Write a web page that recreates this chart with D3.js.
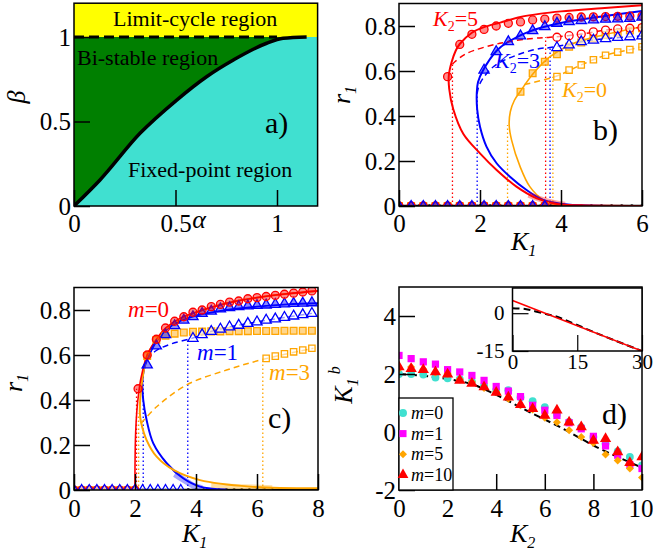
<!DOCTYPE html>
<html>
<head>
<meta charset="utf-8">
<script src="https://cdn.jsdelivr.net/npm/d3@7"></script>
<style>
body { margin: 0; background: #fff; }
</style>
</head>
<body>
<div id="chart"></div>
<script>
// ---- panel a) phase diagram
var bndAlpha = [0, 0.128, 0.325, 0.506, 0.653, 0.785, 0.949, 1.03, 1.146];
var bndBeta  = [0, 0.154, 0.43, 0.627, 0.765, 0.864, 0.963, 0.992, 1.0];

// ---- panel b) r1 vs K1 for K2 = 5, 3, 0
var b5SolidK = [6, 4.5, 3.9, 3.4, 2.9, 2.41, 2.0, 1.59, 1.34, 1.24, 1.23, 1.3, 1.4, 1.5, 1.8, 2.1, 2.5, 3.0, 3.5, 4.0, 5.0, 6.0];
var b5SolidR = [0, 0.003, 0.009, 0.034, 0.086, 0.16, 0.234, 0.32, 0.43, 0.52, 0.58, 0.64, 0.69, 0.72, 0.77, 0.795, 0.815, 0.84, 0.855, 0.865, 0.879, 0.892];
var b5DashK = [1.32, 1.38, 1.67, 2.49, 3.32, 3.73, 4.5, 5.1, 6.0];
var b5DashR = [0.63, 0.641, 0.678, 0.723, 0.745, 0.75, 0.764, 0.782, 0.793];
var b5FillK = [1.2, 1.5, 1.8, 2.1, 2.4, 2.7, 3.0, 3.3, 3.6, 3.9, 4.2, 4.5, 4.8, 5.1, 5.4, 5.7, 6.0];
var b5FillR = [0.575, 0.718, 0.763, 0.785, 0.80, 0.812, 0.818, 0.827, 0.831, 0.835, 0.838, 0.84, 0.841, 0.842, 0.843, 0.844, 0.844];
var b5OpenK = [3.9, 4.2, 4.5, 4.8, 5.1, 5.4, 5.7, 6.0];
var b5OpenR = [0.75, 0.757, 0.764, 0.774, 0.782, 0.787, 0.79, 0.793];

var b3SolidK = [6, 4.6, 4.06, 3.56, 3.15, 2.74, 2.41, 2.16, 2.0, 1.93, 1.92, 1.95, 2.08, 2.41, 2.7, 3.32, 4.14, 4.96, 6.0];
var b3SolidR = [0, 0.002, 0.009, 0.027, 0.071, 0.13, 0.19, 0.264, 0.352, 0.43, 0.5, 0.55, 0.604, 0.69, 0.73, 0.782, 0.819, 0.841, 0.867];
var b3DashK = [1.93, 2.0, 2.33, 2.91, 3.48, 3.73, 4.5, 5.1, 6.0];
var b3DashR = [0.5, 0.545, 0.619, 0.671, 0.7, 0.704, 0.73, 0.744, 0.756];
var b3FillK = [2.1, 2.4, 2.7, 3.0, 3.3, 3.6, 3.9, 4.2, 4.5, 4.8, 5.1, 5.4, 5.7, 6.0];
var b3FillR = [0.604, 0.686, 0.73, 0.756, 0.779, 0.797, 0.812, 0.819, 0.824, 0.827, 0.83, 0.831, 0.834, 0.839];
var b3OpenK = [3.9, 4.2, 4.5, 4.8, 5.1, 5.4, 5.7, 6.0];
var b3OpenR = [0.704, 0.716, 0.73, 0.737, 0.744, 0.749, 0.752, 0.756];

var b0SolidK = [6, 4.5, 3.9, 3.56, 3.23, 2.99, 2.78, 2.72, 2.75, 2.85, 2.99, 3.32, 3.73, 4.22, 4.88, 6.0];
var b0SolidR = [0, 0.002, 0.006, 0.027, 0.086, 0.175, 0.293, 0.36, 0.42, 0.47, 0.508, 0.59, 0.664, 0.716, 0.753, 0.797];
var b0DashK = [3.1, 3.9, 4.5, 5.1, 5.7, 6.0];
var b0DashR = [0.54, 0.578, 0.627, 0.67, 0.695, 0.708];
var b0FillK = [3.0, 3.3, 3.6, 3.9, 4.2, 4.5, 4.8, 5.1, 5.4, 5.7, 6.0];
var b0FillR = [0.508, 0.59, 0.641, 0.674, 0.708, 0.727, 0.745, 0.76, 0.77, 0.78, 0.79];
var b0OpenK = [3.9, 4.2, 4.5, 4.8, 5.1, 5.4, 5.7, 6.0];
var b0OpenR = [0.575, 0.604, 0.627, 0.65, 0.67, 0.684, 0.695, 0.708];

// jumps (dotted verticals): K1, top r, colour
var bDropK = [1.32, 3.62, 1.93, 3.73, 2.68, 3.8];
var bDropR = [0.63, 0.75, 0.5, 0.704, 0.36, 0.575];
var bDropC = ["red", "red", "blue", "blue", "orange", "orange"];

var bZeroK = [0, 0.3, 0.6, 0.9, 1.2, 1.5, 1.8, 2.1, 2.4, 2.7, 3.0, 3.3, 3.6];
var bDotK = [0, 0.25, 0.5, 0.75, 1, 1.25, 1.5, 1.75, 2, 2.25, 2.5, 2.75, 3, 3.25, 3.5, 3.75, 4, 4.25, 4.5, 4.75, 5, 5.25, 5.5, 5.75, 6];
var bFuzzK = [3.2, 3.5, 3.8, 4.1];
var bFuzzR = [0.05, 0.03, 0.015, 0.006];

// ---- panel c) r1 vs K1 for m = 0, 1, 3
var c0SolidK = [2.0, 2.0, 2.02, 2.06, 2.12, 2.2, 2.4, 2.7, 3.0, 3.5, 4.0, 5.0, 6.0, 7.0, 8.0];
var c0SolidR = [0, 0.1, 0.25, 0.35, 0.43, 0.5, 0.6, 0.67, 0.72, 0.765, 0.79, 0.83, 0.855, 0.872, 0.885];
var c0FillK = [2.1, 2.4, 2.7, 3.0, 3.3, 3.6, 3.9, 4.2, 4.5, 4.8, 5.1, 5.4, 5.7, 6.0, 6.3, 6.6, 6.9, 7.2, 7.5, 7.8];
var c0FillR = [0.45, 0.6, 0.67, 0.72, 0.75, 0.77, 0.79, 0.80, 0.815, 0.825, 0.835, 0.84, 0.85, 0.855, 0.86, 0.865, 0.87, 0.875, 0.88, 0.885];

var c1SolidK = [5.0, 4.13, 3.58, 3.04, 2.6, 2.38, 2.27, 2.24, 2.3, 2.4, 2.7, 3.0, 3.3, 4.0, 5.0, 6.0, 7.0, 8.0];
var c1SolidR = [0.002, 0.015, 0.052, 0.119, 0.207, 0.311, 0.4, 0.48, 0.54, 0.58, 0.66, 0.71, 0.74, 0.775, 0.8, 0.815, 0.825, 0.83];
var c1DashK = [2.27, 2.38, 2.7, 3.2, 3.86, 4.5, 5.1, 6.0, 6.9, 7.8];
var c1DashR = [0.54, 0.578, 0.62, 0.65, 0.674, 0.705, 0.725, 0.747, 0.767, 0.785];
var c1FillK = [2.4, 2.7, 3.0, 3.3, 3.6, 3.9, 4.2, 4.5, 4.8, 5.1, 5.4, 5.7, 6.0, 6.3, 6.6, 6.9, 7.2, 7.5, 7.8];
var c1FillR = [0.556, 0.64, 0.69, 0.73, 0.755, 0.77, 0.785, 0.795, 0.805, 0.81, 0.815, 0.818, 0.82, 0.822, 0.825, 0.827, 0.829, 0.83, 0.832];
var c1OpenK = [3.9, 4.2, 4.5, 4.8, 5.1, 5.4, 5.7, 6.0, 6.3, 6.6, 6.9, 7.2, 7.5, 7.8];
var c1OpenR = [0.674, 0.69, 0.705, 0.715, 0.725, 0.732, 0.74, 0.747, 0.755, 0.76, 0.767, 0.773, 0.779, 0.785];

var c3SolidK = [8, 5.77, 4.13, 3.26, 2.71, 2.38, 2.2, 2.16, 2.2, 2.3, 2.4, 2.7, 3.0, 3.5, 4.0, 5.0, 6.0, 7.0, 8.0];
var c3SolidR = [0.008, 0.015, 0.044, 0.089, 0.148, 0.222, 0.3, 0.34, 0.45, 0.54, 0.6, 0.665, 0.715, 0.76, 0.79, 0.83, 0.855, 0.872, 0.885];
var c3DashK = [2.2, 2.71, 3.69, 5.0, 6.21, 7.85];
var c3DashR = [0.296, 0.37, 0.467, 0.533, 0.581, 0.63];
var c3FillK = [2.4, 2.7, 3.0, 3.3, 3.6, 3.9, 4.2, 4.5, 4.8, 5.1, 5.4, 5.7, 6.0, 6.3, 6.6, 6.9, 7.2, 7.5, 7.8];
var c3FillR = [0.596, 0.667, 0.686, 0.695, 0.70, 0.703, 0.704, 0.705, 0.705, 0.706, 0.706, 0.706, 0.707, 0.707, 0.707, 0.708, 0.708, 0.708, 0.708];
var c3OpenK = [6.3, 6.6, 6.9, 7.2, 7.5, 7.8];
var c3OpenR = [0.585, 0.595, 0.605, 0.614, 0.622, 0.63];

var cDropK = [2.05, 2.12, 2.27, 3.73, 6.19];
var cDropR = [0.45, 0.34, 0.54, 0.674, 0.585];
var cDropC = ["red", "orange", "blue", "blue", "orange"];

var cZeroK1 = [0, 0.25, 0.5, 0.75, 1, 1.25, 1.5, 1.75, 2, 2.25, 2.5, 2.75, 3, 3.25, 3.5];
var cZeroK0 = [0, 0.25, 0.5, 0.75, 1, 1.25, 1.5, 1.75, 2];
var cDotK = [0, 0.25, 0.5, 0.75, 1, 1.25, 1.5, 1.75, 2, 2.25, 2.5, 2.75, 3, 3.25, 3.5, 3.75, 4, 4.25, 4.5, 4.75, 5, 5.25, 5.5, 5.75, 6, 6.25, 6.5, 6.75, 7, 7.25, 7.5, 7.75, 8];
var cFuzz1K = [3.3, 3.6, 3.9, 4.2];
var cFuzz1R = [0.07, 0.045, 0.02, 0.008];
var cFuzz3K = [4.5, 5.5, 6.5];
var cFuzz3R = [0.02, 0.015, 0.01];

// ---- panel d) K1^b vs K2
var dK2 = [0, 0.5, 1, 1.5, 2, 2.5, 3, 3.5, 4, 4.5, 5, 5.5, 6, 6.5, 7, 7.5, 8, 8.5, 9, 9.5, 10];
var dM0 = [2.0, 2.0, 1.98, 1.88, 1.85, 1.82, 1.74, 1.6, 1.45, 1.44, 1.2, 1.06, 0.86, 0.6, 0.35, 0.17, -0.17, -0.4, -0.67, -0.86, -1.15];
var dM1 = [2.64, 2.53, 2.42, 2.34, 2.15, 2.07, 1.95, 1.78, 1.57, 1.41, 1.22, 0.92, 0.75, 0.57, 0.32, 0.11, -0.15, -0.48, -0.8, -1.13, -1.26];
var dM5 = [2.18, 2.24, 2.16, 2.05, 2.01, 1.82, 1.72, 1.52, 1.38, 1.15, 0.92, 0.78, 0.49, 0.34, 0.06, -0.17, -0.38, -0.78, -0.98, -1.26, -1.57];
var dM10 = [2.24, 2.18, 2.15, 2.07, 1.99, 1.78, 1.67, 1.55, 1.36, 1.2, 0.94, 0.8, 0.57, 0.75, 0.34, 0.17, -0.29, -0.23, -0.69, -1.06, -0.86];
var dTheoK = [0, 1.28, 2.92, 4.02, 5.37, 6.76, 8.13, 9.92];
var dTheoV = [2.0, 1.91, 1.67, 1.27, 0.69, 0.11, -0.52, -1.2];
var insRedK = [0, 30];
var insRedV = [5, -15];
var insTheoK = [0, 2.92, 5.37, 8.13, 9.92, 20, 30];
var insTheoV = [2.0, 1.67, 0.69, -0.52, -1.2, -8.3, -15];

var RED = "#ff0000", BLUE = "#0000ff", ORANGE = "#ffa500", TURQ = "#40e0d0", MAG = "#ff00ff";
var colorOf = {red: RED, blue: BLUE, orange: ORANGE};
var SERIF = "'Liberation Serif'";

var svg = d3.select("#chart").append("svg")
  .attr("width", 653)
  .attr("height", 559)
  .attr("font-family", SERIF);

var clipId = 0;
function makePanel(x0, x1, y0, y1, xd, yd) {
  var x = d3.scaleLinear().domain(xd).range([x0, x1]);
  var y = d3.scaleLinear().domain(yd).range([y1, y0]);
  var g = svg.append("g");
  var id = "clip" + (clipId++);
  svg.append("clipPath").attr("id", id).append("rect")
    .attr("x", x0).attr("y", y0).attr("width", x1 - x0).attr("height", y1 - y0);
  var plot = g.append("g").attr("clip-path", `url(#${id})`);
  return {x: x, y: y, g: g, plot: plot, x0: x0, x1: x1, y0: y0, y1: y1};
}

function drawAxes(p, xt, yt, xpad, ypad, fs) {
  var fmt = d => String(d);
  var xa = p.g.append("g")
    .attr("transform", `translate(0,${p.y1})`)
    .call(d3.axisBottom(p.x).tickValues(xt).tickSize(-16).tickSizeOuter(0).tickPadding(xpad).tickFormat(fmt));
  var ya = p.g.append("g")
    .attr("transform", `translate(${p.x0},0)`)
    .call(d3.axisLeft(p.y).tickValues(yt).tickSize(-16).tickSizeOuter(0).tickPadding(ypad).tickFormat(fmt));
  [xa, ya].forEach(function(a) {
    a.select(".domain").remove();
    a.attr("font-family", SERIF).attr("font-size", fs || 25);
    a.selectAll("line").attr("stroke", "#000").attr("stroke-width", 1.5);
    a.selectAll("text").attr("fill", "#000").attr("font-family", SERIF);
  });
  return xa;
}

function frame(p) {
  p.g.append("rect")
    .attr("x", p.x0).attr("y", p.y0)
    .attr("width", p.x1 - p.x0).attr("height", p.y1 - p.y0)
    .attr("fill", "none").attr("stroke", "#000").attr("stroke-width", 1.5);
}

function drawLine(p, ks, rs, color, width, dash, opacity) {
  var pts = ks.map((k, i) => [k, rs[i]]);
  p.plot.append("path")
    .datum(pts)
    .attr("d", d3.line().x(d => p.x(d[0])).y(d => p.y(d[1])).curve(d3.curveCatmullRom.alpha(0.5)))
    .attr("fill", "none")
    .attr("stroke", color)
    .attr("stroke-width", width)
    .attr("stroke-dasharray", dash || null)
    .attr("opacity", opacity || 1);
}

var shapes = {circle: d3.symbolCircle, square: d3.symbolSquare, triangle: d3.symbolTriangle, diamond: d3.symbolSquare};

function drawMarks(p, ks, rs, shape, color, style, size) {
  var sym = d3.symbol().type(shapes[shape]).size(size || 45);
  var sel = p.plot.selectAll(null)
    .data(ks.map((k, i) => [k, rs[i]]))
    .enter()
    .append("path")
    .attr("d", sym)
    .attr("transform", d => `translate(${p.x(d[0])},${p.y(d[1])})` + (shape === "diamond" ? " rotate(45)" : ""));
  if (style === "fill") {
    sel.attr("fill", color).attr("fill-opacity", 0.45).attr("stroke", color).attr("stroke-width", 1.3);
  } else if (style === "open") {
    sel.attr("fill", "#fff").attr("fill-opacity", 0.6).attr("stroke", color).attr("stroke-width", 1.3);
  } else {
    sel.attr("fill", color).attr("stroke", "none");
  }
}

function drops(p, ks, rs, cs) {
  ks.forEach(function(k, i) {
    p.plot.append("line")
      .attr("x1", p.x(k)).attr("x2", p.x(k))
      .attr("y1", p.y(0)).attr("y2", p.y(rs[i]))
      .attr("stroke", colorOf[cs[i]])
      .attr("stroke-width", 1.3)
      .attr("stroke-dasharray", "1.5,2.5");
  });
}

function zeroLine(p, dots) {
  p.plot.append("line")
    .attr("x1", p.x0).attr("x2", p.x1)
    .attr("y1", p.y(0)).attr("y2", p.y(0))
    .attr("stroke", "#000").attr("stroke-width", 2.5);
  p.plot.selectAll(null)
    .data(dots)
    .enter()
    .append("circle")
    .attr("cx", d => p.x(d))
    .attr("cy", p.y(0))
    .attr("r", 1.8)
    .attr("fill", "#000");
}

// text with italic parts, subscripts and superscripts
function richText(g, x, y, parts, opts) {
  var t = g.append("text")
    .attr("x", x).attr("y", y)
    .attr("font-size", opts.size)
    .attr("font-family", SERIF)
    .attr("fill", opts.color || "#000")
    .attr("text-anchor", opts.anchor || "start");
  if (opts.rotate) t.attr("transform", `rotate(-90,${x},${y})`);
  parts.forEach(function(pt) {
    var s = t.append("tspan").text(pt.t);
    if (pt.i) s.attr("font-style", "italic");
    if (pt.s) s.attr("font-size", pt.s);
    if (pt.dy) s.attr("dy", pt.dy);
  });
  return t;
}

function plainText(g, x, y, str, size) {
  return g.append("text").attr("x", x).attr("y", y)
    .attr("font-size", size).attr("font-family", SERIF).text(str);
}

// ================= panel a
var pa = makePanel(74, 317.6, 3.2, 206, [0, 1.2], [0, 1.2]);
pa.plot.append("rect")
  .attr("x", pa.x(0)).attr("y", pa.y(1.2))
  .attr("width", pa.x(1.2) - pa.x(0)).attr("height", pa.y(1) - pa.y(1.2))
  .attr("fill", "#ffff00");
pa.plot.append("rect")
  .attr("x", pa.x(0)).attr("y", pa.y(1))
  .attr("width", pa.x(1.2) - pa.x(0)).attr("height", pa.y(0) - pa.y(1))
  .attr("fill", "#007f00");
var bnd = bndAlpha.map((a, i) => [a, bndBeta[i]]);
var bndArea = bnd.concat([[1.2, 1.0]]);
pa.plot.append("path")
  .datum(bndArea)
  .attr("d", d3.area().x(d => pa.x(d[0])).y0(pa.y(0)).y1(d => pa.y(d[1])).curve(d3.curveMonotoneX))
  .attr("fill", TURQ);
pa.plot.append("line")
  .attr("x1", pa.x(0)).attr("x2", pa.x(1.0))
  .attr("y1", pa.y(1)).attr("y2", pa.y(1))
  .attr("stroke", "#000").attr("stroke-width", 3).attr("stroke-dasharray", "10,5");
pa.plot.append("path")
  .datum(bnd)
  .attr("d", d3.line().x(d => pa.x(d[0])).y(d => pa.y(d[1])).curve(d3.curveMonotoneX))
  .attr("fill", "none").attr("stroke", "#000").attr("stroke-width", 3.5);
drawAxes(pa, [0, 0.5, 1], [0, 0.5, 1], 8, 3);
frame(pa);
plainText(pa.g, 113, 26, "Limit-cycle region", 22);
plainText(pa.g, 77, 65, "Bi-stable region", 22);
plainText(pa.g, 128, 177, "Fixed-point region", 22);
plainText(pa.g, 265, 133, "a)", 30);
richText(pa.g, 199, 228, [{t: "α", i: true}], {size: 26, anchor: "middle"});
richText(pa.g, 25, 97, [{t: "β", i: true}], {size: 26, anchor: "middle", rotate: true});

// ================= panel b
var pb = makePanel(399, 642, 3.5, 206, [0, 6], [0, 0.9]);
drops(pb, bDropK, bDropR, bDropC);
zeroLine(pb, bDotK);
drawLine(pb, b0SolidK, b0SolidR, ORANGE, 1.6);
drawLine(pb, b3SolidK, b3SolidR, BLUE, 2);
drawLine(pb, b5SolidK, b5SolidR, RED, 2);
drawLine(pb, bFuzzK, bFuzzR, RED, 6, null, 0.35);
drawLine(pb, b0DashK, b0DashR, ORANGE, 1.5, "6,4");
drawLine(pb, b3DashK, b3DashR, BLUE, 1.5, "6,4");
drawLine(pb, b5DashK, b5DashR, RED, 1.5, "6,4");
drawMarks(pb, bZeroK, bZeroK.map(() => 0), "square", ORANGE, "fill", 45);
drawMarks(pb, bZeroK, bZeroK.map(() => 0), "circle", RED, "fill", 50);
drawMarks(pb, bZeroK, bZeroK.map(() => 0), "triangle", BLUE, "fill", 40);
drawMarks(pb, b0OpenK, b0OpenR, "square", ORANGE, "open", 40);
drawMarks(pb, b0FillK, b0FillR, "square", ORANGE, "fill", 45);
drawMarks(pb, b5OpenK, b5OpenR, "circle", RED, "open", 50);
drawMarks(pb, b3OpenK, b3OpenR, "triangle", BLUE, "open", 45);
drawMarks(pb, b5FillK, b5FillR, "circle", RED, "fill", 50);
drawMarks(pb, b3FillK, b3FillR, "triangle", BLUE, "fill", 45);
drawAxes(pb, [0, 2, 4, 6], [0, 0.2, 0.4, 0.6, 0.8], 8, 3);
frame(pb);
richText(pb.g, 433, 26, [{t: "K", i: true}, {t: "2", s: 14, dy: 5}, {t: "=5", dy: -5}], {size: 22, color: RED});
richText(pb.g, 495, 68, [{t: "K", i: true}, {t: "2", s: 14, dy: 5}, {t: "=3", dy: -5}], {size: 22, color: BLUE});
richText(pb.g, 562, 97, [{t: "K", i: true}, {t: "2", s: 14, dy: 5}, {t: "=0", dy: -5}], {size: 22, color: ORANGE});
plainText(pb.g, 593, 140, "b)", 30);
richText(pb.g, 511, 250, [{t: "K", i: true}, {t: "1", i: true, s: 16, dy: 6}], {size: 26});
richText(pb.g, 350, 95, [{t: "r", i: true}, {t: "1", i: true, s: 16, dy: 6}], {size: 26, anchor: "middle", rotate: true});

// ================= panel c
var pc = makePanel(74, 318, 287.5, 490, [0, 8], [0, 0.9]);
drops(pc, cDropK, cDropR, cDropC);
zeroLine(pc, cDotK);
drawLine(pc, c1SolidK, c1SolidR, BLUE, 2);
drawLine(pc, c3SolidK, c3SolidR, ORANGE, 2);
drawLine(pc, c0SolidK, c0SolidR, RED, 1.6);
drawLine(pc, cFuzz1K, cFuzz1R, BLUE, 6, null, 0.35);
drawLine(pc, cFuzz3K, cFuzz3R, ORANGE, 5, null, 0.35);
drawLine(pc, c3DashK, c3DashR, ORANGE, 1.5, "6,4");
drawLine(pc, c1DashK, c1DashR, BLUE, 1.5, "6,4");
drawMarks(pc, cZeroK0, cZeroK0.map(() => 0), "square", ORANGE, "fill", 40);
drawMarks(pc, cZeroK0, cZeroK0.map(() => 0), "circle", RED, "fill", 45);
drawMarks(pc, cZeroK1, cZeroK1.map(() => 0), "triangle", BLUE, "open", 40);
drawMarks(pc, c3OpenK, c3OpenR, "square", ORANGE, "open", 40);
drawMarks(pc, c3FillK, c3FillR, "square", ORANGE, "fill", 45);
drawMarks(pc, c1OpenK, c1OpenR, "triangle", BLUE, "open", 45);
drawMarks(pc, c1FillK, c1FillR, "triangle", BLUE, "fill", 45);
drawMarks(pc, c0FillK, c0FillR, "circle", RED, "fill", 50);
drawAxes(pc, [0, 2, 4, 6, 8], [0, 0.2, 0.4, 0.6, 0.8], 9, 3);
frame(pc);
richText(pc.g, 128, 317, [{t: "m", i: true}, {t: "=0"}], {size: 23, color: RED});
richText(pc.g, 197, 360, [{t: "m", i: true}, {t: "=1"}], {size: 23, color: BLUE});
richText(pc.g, 269, 380, [{t: "m", i: true}, {t: "=3"}], {size: 23, color: ORANGE});
plainText(pc.g, 268, 428, "c)", 30);
richText(pc.g, 182, 542, [{t: "K", i: true}, {t: "1", i: true, s: 16, dy: 6}], {size: 26});
richText(pc.g, 22, 383, [{t: "r", i: true}, {t: "1", i: true, s: 16, dy: 6}], {size: 26, anchor: "middle", rotate: true});

// ================= panel d
var pd = makePanel(399, 642, 287, 490, [0, 10], [-2, 5]);
drawLine(pd, dTheoK, dTheoV, "#000", 2, "7,4");
drawMarks(pd, dK2, dM0, "circle", TURQ, "solid", 48);
drawMarks(pd, dK2, dM1, "square", MAG, "solid", 52);
drawMarks(pd, dK2, dM5, "diamond", ORANGE, "solid", 32);
drawMarks(pd, dK2, dM10, "triangle", RED, "solid", 55);
var dxa = drawAxes(pd, [0, 2, 4, 6, 8, 10], [-2, 0, 2, 4], 9, 3);
// keep the last label inside the page
dxa.selectAll(".tick text").filter(d => d === 10).attr("text-anchor", "end").attr("x", 11);
frame(pd);
plainText(pd.g, 602, 424, "d)", 30);
richText(pd.g, 510, 542, [{t: "K", i: true}, {t: "2", i: true, s: 16, dy: 6}], {size: 26});
richText(pd.g, 352, 385, [{t: "K", i: true}, {t: "1", i: true, s: 16, dy: 6}, {t: " b", i: true, s: 16, dy: -18}], {size: 26, anchor: "middle", rotate: true});

// legend
var legNames = ["0", "1", "5", "10"];
var legShapes = ["circle", "square", "diamond", "triangle"];
var legColors = [TURQ, MAG, ORANGE, RED];
var leg = pd.g.append("g");
leg.append("rect").attr("x", 399).attr("y", 398).attr("width", 54).attr("height", 92)
  .attr("fill", "#fff").attr("stroke", "#000").attr("stroke-width", 1.3);
legNames.forEach(function(n, i) {
  var cy = 413 + i * 20.6;
  leg.append("path")
    .attr("d", d3.symbol().type(shapes[legShapes[i]]).size(legShapes[i] === "diamond" ? 32 : 50))
    .attr("transform", `translate(403,${cy})` + (legShapes[i] === "diamond" ? " rotate(45)" : ""))
    .attr("fill", legColors[i]);
  richText(leg, 411, cy + 6, [{t: "m", i: true}, {t: "=" + n}], {size: 18});
});

// inset
var pi = makePanel(512.5, 642, 288, 351, [0, 30], [-15, 10]);
pi.g.insert("rect", ":first-child")
  .attr("x", 512.5).attr("y", 288).attr("width", 129.5).attr("height", 63).attr("fill", "#fff");
drawLine(pi, insTheoK, insTheoV, "#000", 2, "7,4");
drawLine(pi, insRedK, insRedV, RED, 1.6);
drawAxes(pi, [0, 15, 30], [-15, 0], 3, 8, 21);
pi.g.selectAll(".tick line").attr("stroke-width", 1.2);
frame(pi);
</script>
</body>
</html>
